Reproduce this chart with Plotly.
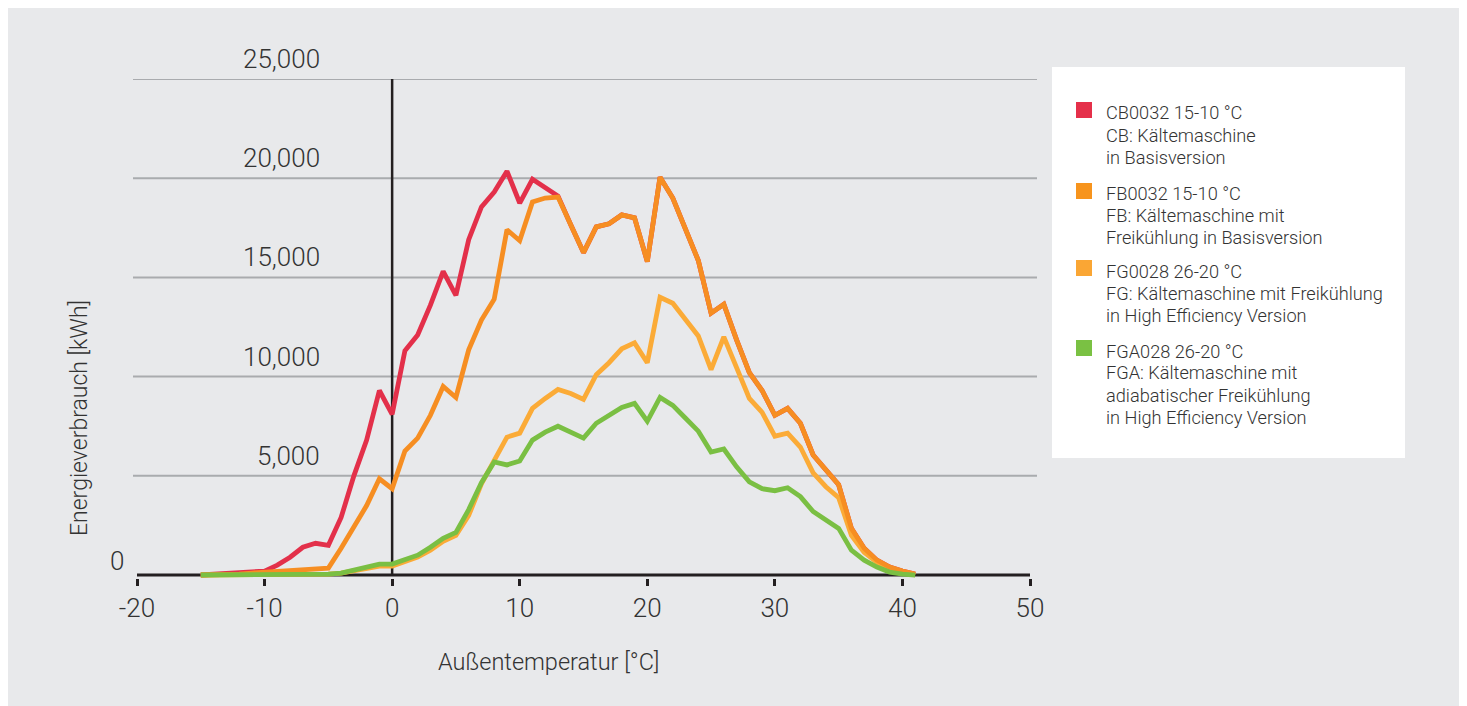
import plotly.graph_objects as go

temps = list(range(-15, 42))

cb_values = [0, 50, 100, 150, 200, 200, 500, 900, 1400, 1600, 1500, 2900, 5000, 6800, 9300, 8100,
             11300, 12100, 13600, 15300, 14100, 16900, 18550, 19300, 20350, 18750, 19950, 19550, 19100,
             17650, 16250, 17550, 17700, 18150, 18000, 15800, 20050, 19000, 17400, 15850, 13200, 13650,
             11850, 10200, 9300, 8050, 8400, 7650, 6050, 5300, 4550, 2350, 1350, 750, 400, 200, 50]

fb_values = [0, 0, 50, 50, 100, 150, 150, 200, 250, 300, 350, 1350, 2450, 3500, 4850, 4350,
             6250, 6900, 8050, 9500, 8950, 11350, 12850, 13900, 17400, 16850, 18800, 19000, 19050,
             17650, 16250, 17550, 17700, 18150, 18000, 15800, 20050, 19000, 17400, 15850, 13200, 13650,
             11850, 10200, 9300, 8050, 8400, 7650, 6050, 5300, 4550, 2350, 1350, 750, 400, 200, 50]

fg_values = [0, 0, 0, 0, 0, 0, 0, 0, 0, 0, 50, 100, 200, 300, 450, 450,
             650, 900, 1250, 1700, 2000, 3000, 4600, 5800, 6950, 7150, 8400, 8900, 9350,
             9150, 8850, 10100, 10700, 11400, 11700, 10700, 14000, 13700, 12850, 12050, 10350, 12000,
             10450, 8900, 8200, 7000, 7150, 6450, 5150, 4450, 3900, 2000, 1150, 650, 300, 150, 0]

fga_values = [0, 0, 0, 0, 0, 0, 0, 0, 0, 0, 50, 100, 250, 350, 550, 550,
              750, 1000, 1400, 1850, 2150, 3300, 4650, 5700, 5550, 5750, 6800, 7200, 7500,
              7200, 6900, 7650, 8050, 8450, 8650, 7750, 8950, 8550, 7900, 7250, 6200, 6350,
              5450, 4700, 4350, 4250, 4400, 3950, 3200, 2800, 2350, 1250, 750, 400, 150, 50, 0]

x_ticks = [-20, -10, 0, 10, 20, 30, 40, 50]
x_tick_labels = ["-20", "-10", "0", "10", "20", "30", "40", "50"]
y_ticks = [0, 5000, 10000, 15000, 20000, 25000]
y_tick_labels = ["0", "5,000", "10,000", "15,000", "20,000", "25,000"]

legend_lines = [
    ["CB0032 15-10 °C", "CB: Kältemaschine", "in Basisversion"],
    ["FB0032 15-10 °C", "FB: Kältemaschine mit", "Freikühlung in Basisversion"],
    ["FG0028 26-20 °C", "FG: Kältemaschine mit Freikühlung", "in High Efficiency Version"],
    ["FGA028 26-20 °C", "FGA: Kältemaschine mit", "adiabatischer Freikühlung",
     "in High Efficiency Version"],
]
line_colors = ["#e3304a", "#f68e22", "#fbab37", "#7abf43"]
legend_colors = ["#e5304a", "#f7941d", "#faa634", "#7ac143"]

# page offset (body margin) -> figure coordinates
OFF = 8
W, H = 1454, 700
# absolute screen positions of plot area
L_ABS, R_ABS, T_ABS, B_ABS = 137, 1030, 79, 578
L, R, T, B = L_ABS - OFF, R_ABS - OFF, T_ABS - OFF, B_ABS - OFF
PW, PH = R - L, B - T


def px(xabs):
    return (xabs - OFF - L) / PW


def py(yabs):
    return (B - (yabs - OFF)) / PH


FONT = "Roboto"
TXT = "#333333"
BG = "#e8e9eb"

fig = go.Figure()
series = [cb_values, fg_values, fb_values, fga_values]
order_colors = [line_colors[0], line_colors[2], line_colors[1], line_colors[3]]
for vals, col in zip(series, order_colors):
    fig.add_trace(go.Scatter(x=temps, y=vals, mode="lines",
                             line=dict(color=col, width=4.8), showlegend=False,
                             hoverinfo="skip"))

shapes = []
# gridlines
for v in y_ticks[1:]:
    shapes.append(dict(type="line", xref="paper", yref="y", x0=px(133), x1=px(1037),
                       y0=v, y1=v, line=dict(color="#a9abae", width=2), layer="below"))
# x axis line at 0
shapes.append(dict(type="line", xref="x", yref="y", x0=-20, x1=50, y0=0, y1=0,
                   line=dict(color="#231f20", width=3), layer="below"))
# vertical line at x=0
shapes.append(dict(type="line", xref="x", yref="y", x0=0, x1=0, y0=0, y1=25000,
                   line=dict(color="#231f20", width=2.5), layer="below"))
# legend box
shapes.append(dict(type="rect", xref="paper", yref="paper",
                   x0=px(1052), x1=px(1405), y0=py(458), y1=py(67),
                   fillcolor="white", line=dict(width=0), layer="below"))

annotations = []
for v, lab in zip(y_ticks, y_tick_labels):
    if v == 0:
        annotations.append(dict(text=lab, xref="paper", yref="y", x=px(126), y=v,
                                xanchor="right", yanchor="middle", yshift=14, showarrow=False,
                                font=dict(family=FONT, size=26, color=TXT, weight=300)))
    else:
        annotations.append(dict(text=lab, xref="paper", yref="y", x=px(322), y=v,
                                xanchor="right", yanchor="middle", yshift=20, showarrow=False,
                                font=dict(family=FONT, size=26, color=TXT, weight=300)))

annotations.append(dict(text="Außentemperatur [°C]", xref="paper", yref="paper",
                        x=px(549), y=py(662), xanchor="center", yanchor="middle", showarrow=False,
                        font=dict(family=FONT, size=23.5, color=TXT, weight=300)))
annotations.append(dict(text="Energieverbrauch [kWh]", xref="paper", yref="paper",
                        x=px(79), y=py(418), xanchor="center", yanchor="middle", showarrow=False,
                        textangle=-90,
                        font=dict(family=FONT, size=23, color=TXT, weight=300)))

# legend entries
square_tops = [102, 183, 260, 340]
line_centers = [[113, 135, 157], [193, 215, 237], [271, 293, 315], [351, 373, 395, 417]]
for lines, col, st, centers in zip(legend_lines, legend_colors, square_tops, line_centers):
    shapes.append(dict(type="rect", xref="paper", yref="paper",
                       x0=px(1076), x1=px(1092), y0=py(st + 16), y1=py(st),
                       fillcolor=col, line=dict(width=0)))
    for txt, cy in zip(lines, centers):
        annotations.append(dict(text=txt, xref="paper", yref="paper", x=px(1104), y=py(cy),
                                xanchor="left", yanchor="middle", align="left", showarrow=False,
                                font=dict(family=FONT, size=18.2, color=TXT, weight=300)))

fig.update_layout(
    width=W, height=H,
    margin=dict(l=L, r=W - R, t=T, b=H - B),
    paper_bgcolor=BG,
    plot_bgcolor="rgba(0,0,0,0)",
    shapes=shapes,
    annotations=annotations,
    showlegend=False,
    font=dict(family=FONT, color=TXT),
    xaxis=dict(range=[-20, 50], tickvals=x_ticks, ticktext=x_tick_labels,
               showgrid=False, zeroline=False, showline=False,
               ticks="outside", ticklen=7, tickwidth=3, tickcolor="#231f20",
               tickfont=dict(family=FONT, size=26, color=TXT, weight=300),
               layer="below traces"),
    yaxis=dict(range=[-150, 25000], showgrid=False, zeroline=False, showline=False,
               showticklabels=False, ticks=""),
)

fig.write_html("out.html")
